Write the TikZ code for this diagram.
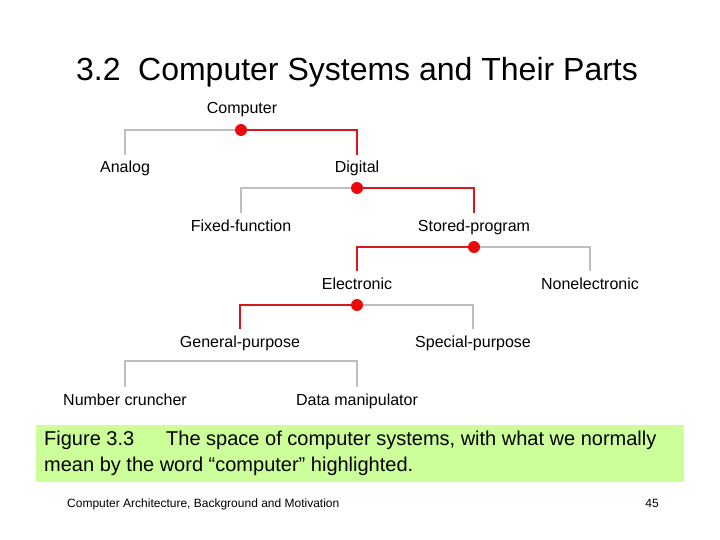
\documentclass[tikz,border=0pt]{standalone}
\usepackage{fontspec}
\setmainfont{Liberation Sans}
\definecolor{hired}{RGB}{215,25,30}
\definecolor{dotred}{RGB}{235,10,10}
\definecolor{capgreen}{RGB}{204,255,153}
\definecolor{linegray}{RGB}{190,190,190}
\begin{document}
\begin{tikzpicture}[x=1pt,y=-1pt,
  lbl/.style={inner sep=1pt,text height=11.5pt,text depth=3.5pt,font=\fontsize{16}{19}\selectfont},
  grayln/.style={draw=linegray,line width=1.1pt},
  redln/.style={draw=hired,line width=2.6pt},
  hdot/.style={circle,fill=dotred,inner sep=0pt,minimum size=12pt}]
\useasboundingbox (0,0) rectangle (720,540);
\fill[white] (0,0) rectangle (720,540);
% title
\node[anchor=base,inner sep=0pt,font=\fontsize{32}{38}\selectfont] (title) at (357,81) {3.2\hspace{0.55em}Computer Systems and Their Parts};
% tree labels
\node[lbl] (comp) at (242,110) {Computer};
\node[lbl] (analog) at (125,169) {Analog};
\node[lbl] (digital) at (357,169) {Digital};
\node[lbl] (fixed) at (241,227) {Fixed-function};
\node[lbl] (stored) at (474,227) {Stored-program};
\node[lbl] (elec) at (357,285) {Electronic};
\node[lbl] (nonelec) at (590,285) {Nonelectronic};
\node[lbl] (gen) at (240,343) {General-purpose};
\node[lbl] (spec) at (473,343) {Special-purpose};
\node[lbl] (num) at (125,401) {Number cruncher};
\node[lbl] (data) at (357,401) {Data manipulator};
% junctions
\coordinate (j1) at (241,130);
\coordinate (j2) at (357,188);
\coordinate (j3) at (474,247);
\coordinate (j4) at (357,305);
\coordinate (j5) at (240,361);
% gray branches
\draw[grayln] (j1) -| ([yshift=5.5pt]analog.north);
\draw[grayln] (j2) -| ([yshift=5.5pt]fixed.north);
\draw[grayln] (j3) -| ([yshift=5.5pt]nonelec.north);
\draw[grayln] (j4) -| ([yshift=5.5pt]spec.north);
\draw[grayln] (j5) -| ([yshift=5.5pt]num.north);
\draw[grayln] (j5) -| ([yshift=5.5pt]data.north);
% red branches
\draw[redln] (j1) -| ([yshift=5.5pt]digital.north);
\draw[redln] (j2) -| ([yshift=5.5pt]stored.north);
\draw[redln] (j3) -| ([yshift=5.5pt]elec.north);
\draw[redln] (j4) -| ([yshift=5.5pt]gen.north);
% dots
\node[hdot] (d1) at (j1) {};
\node[hdot] (d2) at (j2) {};
\node[hdot] (d3) at (j3) {};
\node[hdot] (d4) at (j4) {};
% caption box
\fill[capgreen] (36,425) rectangle (684,482);
\node[anchor=north west,inner sep=0pt,align=left,font=\fontsize{20}{26}\selectfont] (cap) at (44,431)
  {Figure 3.3\hspace{1.6em}The space of computer systems, with what we normally\\mean by the word “computer” highlighted.};
% footer
\node[anchor=base west,inner sep=0pt,font=\fontsize{12}{14}\selectfont] (foot) at (67,507) {Computer Architecture, Background and Motivation};
\node[anchor=base east,inner sep=0pt,font=\fontsize{12}{14}\selectfont] (page) at (659,507) {45};
\end{tikzpicture}
\end{document}
